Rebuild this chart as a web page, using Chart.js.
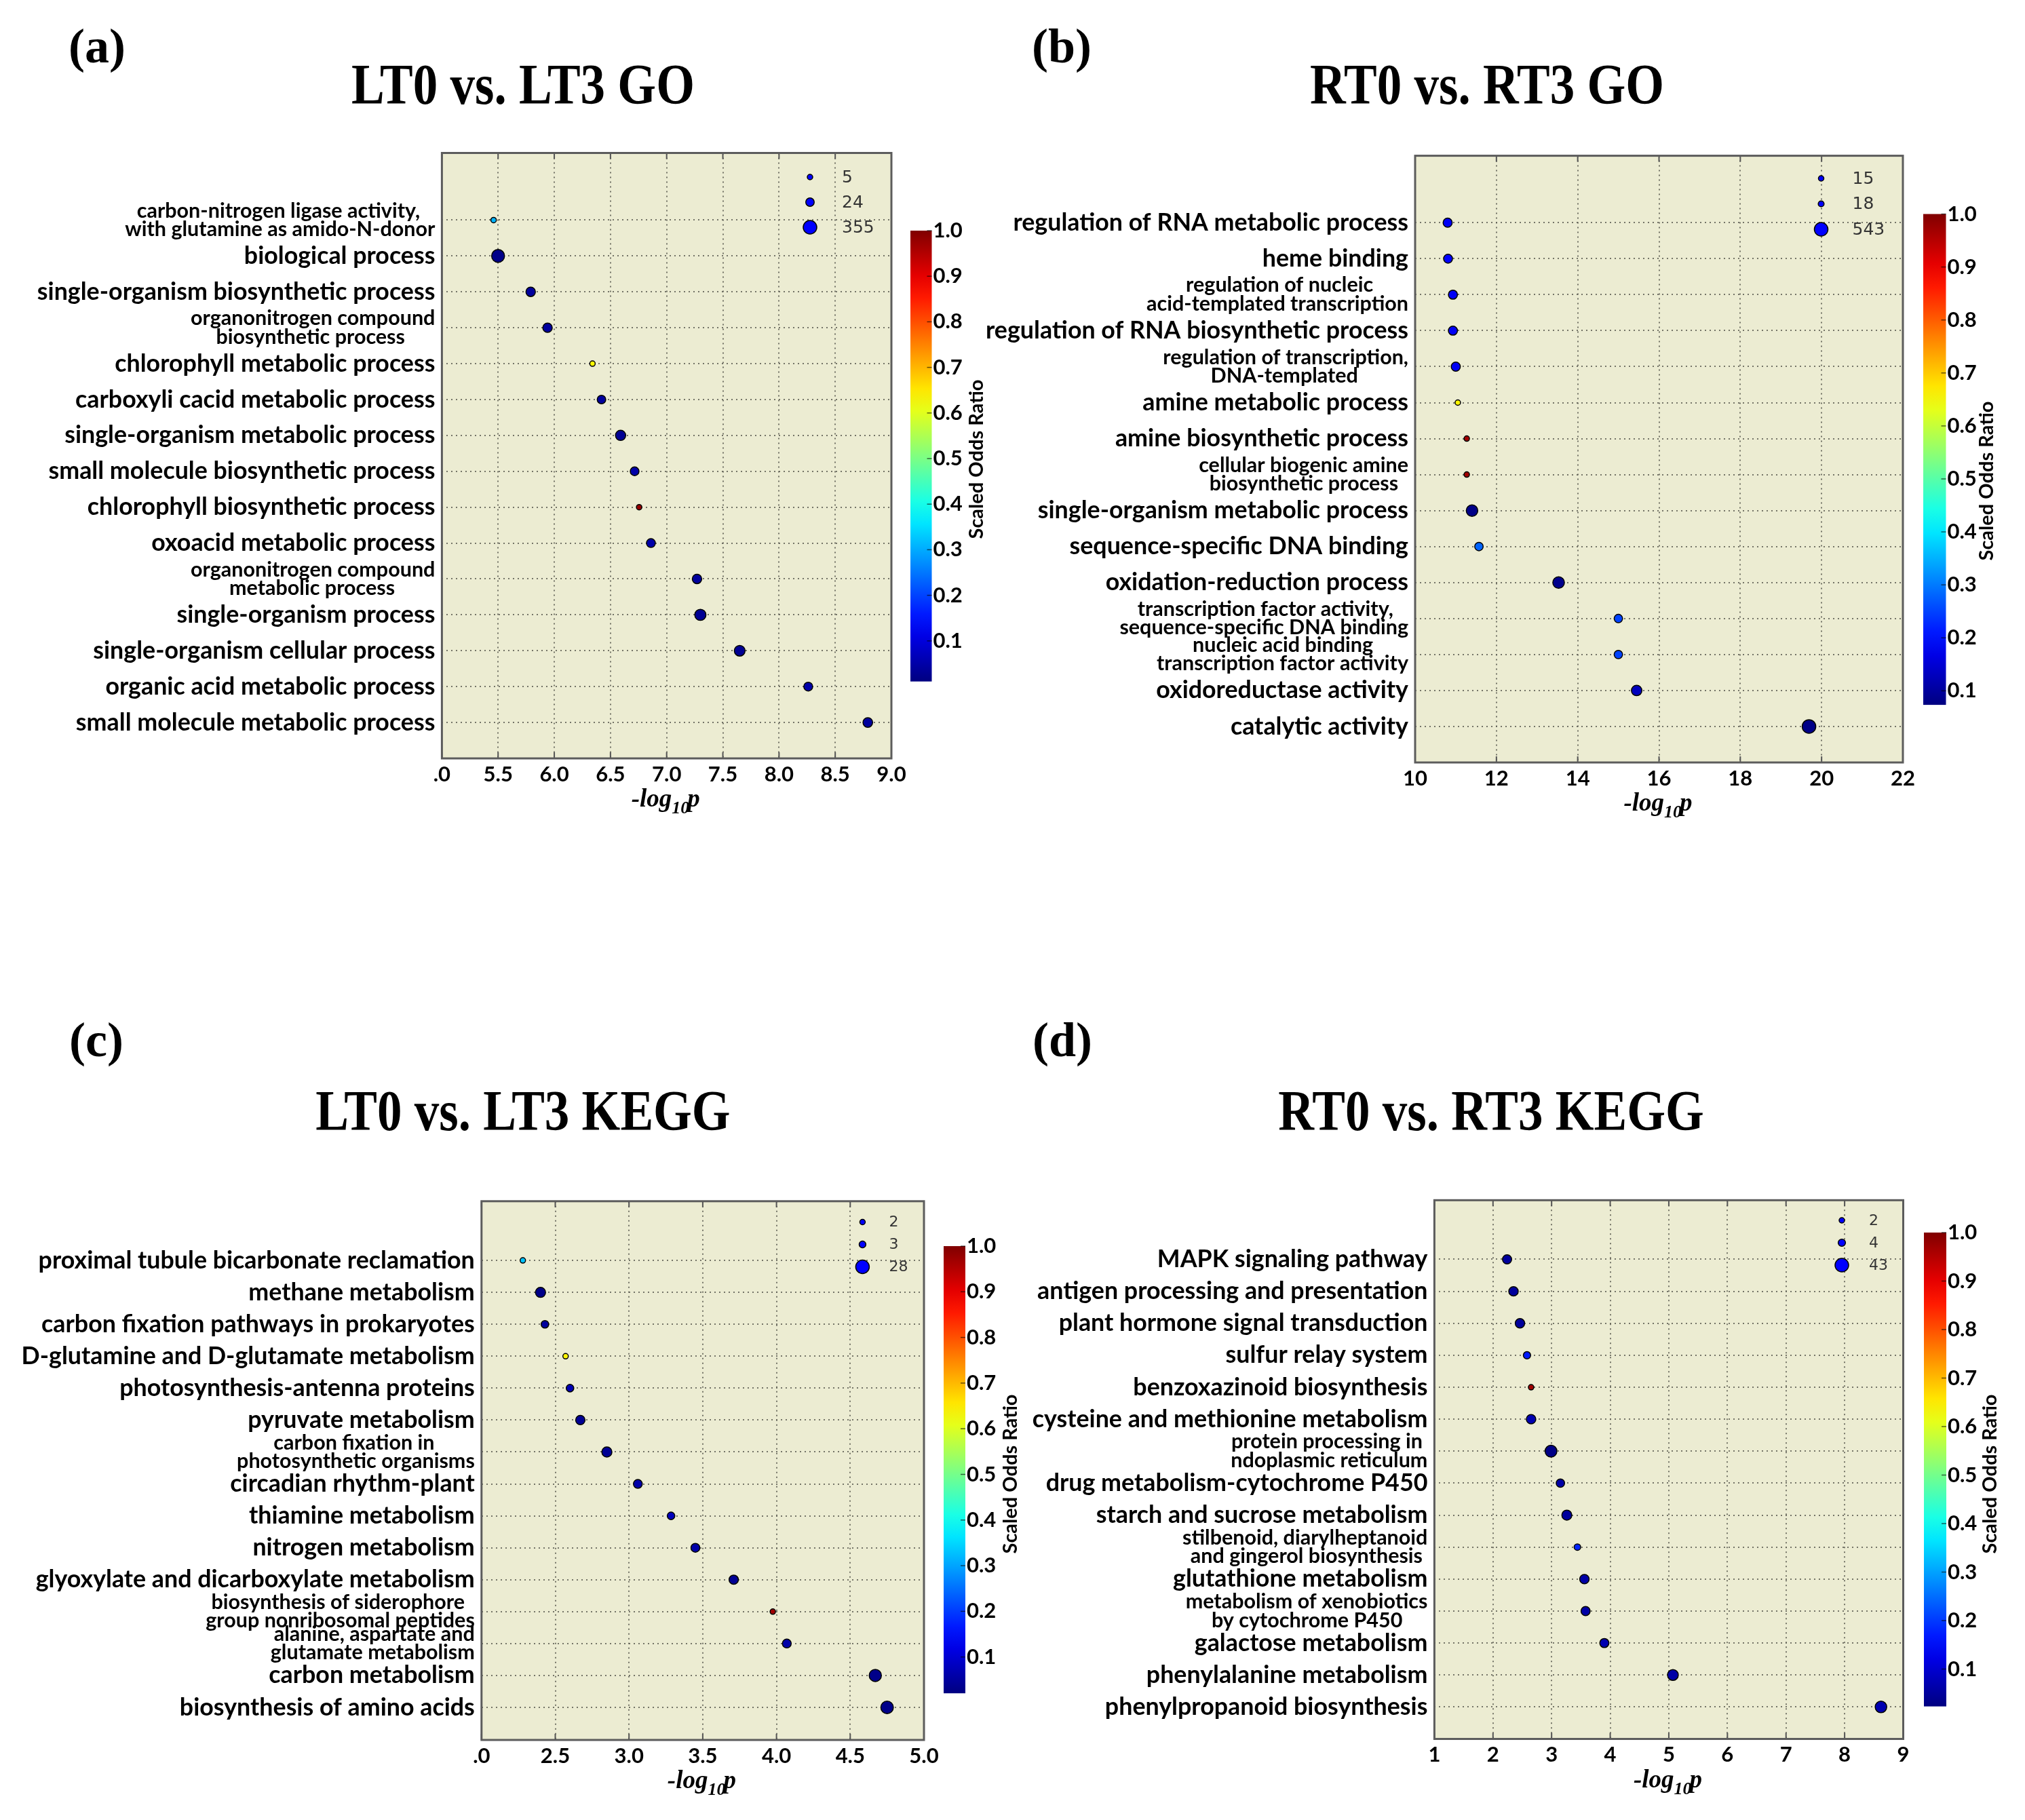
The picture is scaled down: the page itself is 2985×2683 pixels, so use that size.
<!DOCTYPE html>
<html>
<head>
<meta charset="utf-8">
<script src="https://cdn.jsdelivr.net/npm/chart.js@4.4.0/dist/chart.umd.min.js"></script>
<style>
  body { margin: 0; background: #fff; }
  #page { position: relative; width: 2985px; height: 2683px; overflow: hidden; background: #fff; }
  canvas { position: absolute; }
  .tag, .ttl {
    position: absolute;
    font-family: "Liberation Serif", "Times New Roman", serif;
    font-weight: bold;
    line-height: 1;
    white-space: nowrap;
    color: #000;
    z-index: 2;
  }
  .tag { font-size: 72px; transform: translate(-50%, -50%); }
  .ttl { font-size: 73px; transform: translate(-50%, -50%) scaleY(1.17); }
</style>
</head>
<body>
<div id="page">
  <div class="tag" style="left:143px;top:68px">(a)</div>
  <div class="tag" style="left:1565px;top:68px">(b)</div>
  <div class="tag" style="left:142px;top:1533px">(c)</div>
  <div class="tag" style="left:1566px;top:1533px">(d)</div>
  <div class="ttl" style="left:771px;top:124px">LT0 vs. LT3 GO</div>
  <div class="ttl" style="left:2192px;top:124px">RT0 vs. RT3 GO</div>
  <div class="ttl" style="left:771px;top:1637px">LT0 vs. LT3 KEGG</div>
  <div class="ttl" style="left:2198px;top:1637px">RT0 vs. RT3 KEGG</div>
  <canvas id="chartA"></canvas>
  <canvas id="chartB"></canvas>
  <canvas id="chartC"></canvas>
  <canvas id="chartD"></canvas>
</div>
<script>
// (a) LT0 vs. LT3 GO -- terms listed top to bottom
var goLtTerms = [
  ["carbon-nitrogen ligase activity,", "with glutamine as amido-N-donor"],
  "biological process",
  "single-organism biosynthetic process",
  ["organonitrogen compound", "biosynthetic process"],
  "chlorophyll metabolic process",
  "carboxyli cacid metabolic process",
  "single-organism metabolic process",
  "small molecule biosynthetic process",
  "chlorophyll biosynthetic process",
  "oxoacid metabolic process",
  ["organonitrogen compound", "metabolic process"],
  "single-organism process",
  "single-organism cellular process",
  "organic acid metabolic process",
  "small molecule metabolic process"
];
var goLtLogP = [5.46, 5.50, 5.79, 5.94, 6.34, 6.42, 6.59, 6.715, 6.755, 6.86, 7.27, 7.30, 7.65, 8.26, 8.79];
var goLtGenes = [5, 250, 40, 40, 5, 25, 60, 28, 5, 30, 40, 100, 80, 30, 45];
var goLtOdds = [0.31, 0.02, 0.04, 0.04, 0.63, 0.04, 0.03, 0.05, 0.98, 0.05, 0.04, 0.03, 0.03, 0.05, 0.04];
var goLtSizeKey = [5, 24, 355];
var goLtXTicks = [".0", "5.5", "6.0", "6.5", "7.0", "7.5", "8.0", "8.5", "9.0"];

// (b) RT0 vs. RT3 GO
var goRtTerms = [
  "regulation of RNA metabolic process",
  "heme binding",
  ["regulation of nucleic", "acid-templated transcription"],
  "regulation of RNA biosynthetic process",
  ["regulation of transcription,", "DNA-templated"],
  "amine metabolic process",
  "amine biosynthetic process",
  ["cellular biogenic amine", "biosynthetic process"],
  "single-organism metabolic process",
  "sequence-specific DNA binding",
  "oxidation-reduction process",
  ["transcription factor activity,", "sequence-specific DNA binding"],
  ["nucleic acid binding", "transcription factor activity"],
  "oxidoreductase activity",
  "catalytic activity"
];
var goRtLogP = [10.80, 10.81, 10.93, 10.93, 11.00, 11.05, 11.27, 11.27, 11.40, 11.57, 13.53, 15.00, 15.00, 15.45, 19.69];
var goRtGenes = [75, 70, 75, 75, 75, 15, 15, 15, 220, 56, 230, 56, 56, 137, 543];
var goRtOdds = [0.18, 0.19, 0.18, 0.18, 0.18, 0.66, 0.97, 0.97, 0.08, 0.28, 0.085, 0.25, 0.25, 0.13, 0.08];
var goRtSizeKey = [15, 18, 543];
var goRtXTicks = ["10", "12", "14", "16", "18", "20", "22"];

// (c) LT0 vs. LT3 KEGG
var keggLtTerms = [
  "proximal tubule bicarbonate reclamation",
  "methane metabolism",
  "carbon fixation pathways in prokaryotes",
  "D-glutamine and D-glutamate metabolism",
  "photosynthesis-antenna proteins",
  "pyruvate metabolism",
  ["carbon fixation in", "photosynthetic organisms"],
  "circadian rhythm-plant",
  "thiamine metabolism",
  "nitrogen metabolism",
  "glyoxylate and dicarboxylate metabolism",
  ["biosynthesis of siderophore", "group nonribosomal peptides"],
  ["alanine, aspartate and", "glutamate metabolism"],
  "carbon metabolism",
  "biosynthesis of amino acids"
];
var keggLtLogP = [2.28, 2.40, 2.43, 2.57, 2.60, 2.67, 2.85, 3.06, 3.285, 3.45, 3.71, 3.975, 4.07, 4.67, 4.75];
var keggLtGenes = [2, 9, 4, 2, 4, 7, 9, 6, 4, 6, 7, 2, 6, 18, 20];
var keggLtOdds = [0.33, 0.03, 0.05, 0.64, 0.07, 0.04, 0.04, 0.06, 0.08, 0.06, 0.04, 0.97, 0.06, 0.03, 0.03];
var keggLtSizeKey = [2, 3, 28];
var keggLtXTicks = [".0", "2.5", "3.0", "3.5", "4.0", "4.5", "5.0"];

// (d) RT0 vs. RT3 KEGG
var keggRtTerms = [
  "MAPK signaling pathway",
  "antigen processing and presentation",
  "plant hormone signal transduction",
  "sulfur relay system",
  "benzoxazinoid biosynthesis",
  "cysteine and methionine metabolism",
  ["protein processing in", "ndoplasmic reticulum"],
  "drug metabolism-cytochrome P450",
  "starch and sucrose metabolism",
  ["stilbenoid, diarylheptanoid", "and gingerol biosynthesis"],
  "glutathione metabolism",
  ["metabolism of xenobiotics", "by cytochrome P450"],
  "galactose metabolism",
  "phenylalanine metabolism",
  "phenylpropanoid biosynthesis"
];
var keggRtLogP = [2.24, 2.35, 2.46, 2.58, 2.65, 2.65, 2.99, 3.15, 3.26, 3.44, 3.56, 3.58, 3.90, 5.07, 8.62];
var keggRtGenes = [8, 9, 9, 4, 2, 9, 22, 6, 11, 3, 9, 8, 8, 15, 20];
var keggRtOdds = [0.05, 0.05, 0.05, 0.17, 0.97, 0.07, 0.03, 0.06, 0.05, 0.18, 0.06, 0.06, 0.07, 0.06, 0.07];
var keggRtSizeKey = [2, 4, 43];
var keggRtXTicks = ["1", "2", "3", "4", "5", "6", "7", "8", "9"];

var cbarTicks = ["0.1", "0.2", "0.3", "0.4", "0.5", "0.6", "0.7", "0.8", "0.9", "1.0"];

// layout of each panel, page pixels
var panels = [
  { id: "chartA", cx: 0, cy: 0, cw: 1525, ch: 1340,
    L: 651.4, R: 1314, T: 225.5, B: 1118, yMin: -1.0, yMax: 15.87,
    xMin: 5, xMax: 9, step: 0.5,
    terms: goLtTerms, logP: goLtLogP, genes: goLtGenes, odds: goLtOdds, sizeKey: goLtSizeKey, xTicks: goLtXTicks,
    cb: { x: 1342, w: 31.5, top: 340, ppu: 672, vmin: 0.011, lx: 1440, ly: 677 },
    leg: { dx: 120, dy: 35.5, step: 37, tx: 47, font: 25 } },
  { id: "chartB", cx: 1450, cy: 0, cw: 1535, ch: 1340,
    L: 2086, R: 2805, T: 229.6, B: 1124, yMin: -1.0, yMax: 15.86,
    xMin: 10, xMax: 22, step: 2,
    terms: goRtTerms, logP: goRtLogP, genes: goRtGenes, odds: goRtOdds, sizeKey: goRtSizeKey, xTicks: goRtXTicks,
    cb: { x: 2835, w: 33.5, top: 315.5, ppu: 781, vmin: 0.0735, lx: 2929, ly: 709 },
    leg: { dx: 120.5, dy: 33.4, step: 37.5, tx: 46, font: 25 } },
  { id: "chartC", cx: 0, cy: 1340, cw: 1525, ch: 1343,
    L: 709.8, R: 1362, T: 1770.8, B: 2565, yMin: -1.02, yMax: 15.855,
    xMin: 2, xMax: 5, step: 0.5,
    terms: keggLtTerms, logP: keggLtLogP, genes: keggLtGenes, odds: keggLtOdds, sizeKey: keggLtSizeKey, xTicks: keggLtXTicks,
    cb: { x: 1391, w: 32, top: 1837, ppu: 673, vmin: 0.0205, lx: 1490, ly: 2173 },
    leg: { dx: 90.6, dy: 30.7, step: 33, tx: 39, font: 22 } },
  { id: "chartD", cx: 1450, cy: 1340, cw: 1535, ch: 1343,
    L: 2114.4, R: 2805.5, T: 1769.3, B: 2563.5, yMin: -1.0, yMax: 15.85,
    xMin: 1, xMax: 9, step: 1,
    terms: keggRtTerms, logP: keggRtLogP, genes: keggRtGenes, odds: keggRtOdds, sizeKey: keggRtSizeKey, xTicks: keggRtXTicks,
    cb: { x: 2836, w: 33, top: 1817, ppu: 715, vmin: 0.023, lx: 2934, ly: 2173 },
    leg: { dx: 90.5, dy: 29.7, step: 33, tx: 40, font: 22 } }
];

var XAXIS_H = 60;
var bigFont = { family: "Lato", weight: "bold", size: 35.8, lineHeight: 1.2 };
var smallFont = { family: "Lato", weight: "bold", size: 30.5, lineHeight: 0.9 };
var mctx = document.createElement("canvas").getContext("2d");

function jet(t) {
  t = Math.max(0, Math.min(1, t));
  function c(v) { return Math.round(255 * Math.max(0, Math.min(1, v))); }
  return "rgb(" + c(1.5 - Math.abs(4 * t - 3)) + "," + c(1.5 - Math.abs(4 * t - 2)) + "," + c(1.5 - Math.abs(4 * t - 1)) + ")";
}

// bubble radius grows with log(count), anchored on the size key
function sizeFn(key) {
  var lo = Math.log(key[0]), hi = Math.log(key[key.length - 1]);
  return function (n) { return Math.max(3.5, 4 + 6 * (Math.log(n) - lo) / (hi - lo)); };
}

// centre the lines of a two-line label (they are drawn right aligned)
function padLines(lines, font) {
  mctx.font = font;
  var ws = lines.map(function (s) { return mctx.measureText(s).width; });
  var maxW = Math.max.apply(null, ws);
  var sp = mctx.measureText(" ").width;
  return lines.map(function (s, i) {
    return s + " ".repeat(Math.round((maxW - ws[i]) / 2 / sp));
  });
}

function makeDeco(p, rad) {
  return {
    id: "deco",
    beforeDraw: function (chart) {
      var a = chart.chartArea, ctx = chart.ctx;
      ctx.save();
      ctx.fillStyle = "#ececd2";
      ctx.fillRect(a.left, a.top, a.right - a.left, a.bottom - a.top);
      ctx.restore();
    },
    afterDraw: function (chart) {
      var a = chart.chartArea, ctx = chart.ctx, xs = chart.scales.x;
      ctx.save();
      // inward tick marks
      ctx.strokeStyle = "#555";
      ctx.lineWidth = 2;
      xs.ticks.forEach(function (t) {
        var px = xs.getPixelForValue(t.value);
        ctx.beginPath();
        ctx.moveTo(px, a.bottom); ctx.lineTo(px, a.bottom - 9);
        ctx.moveTo(px, a.top); ctx.lineTo(px, a.top + 9);
        ctx.stroke();
      });
      // frame
      ctx.strokeStyle = "#5c5c5c";
      ctx.lineWidth = 3;
      ctx.strokeRect(a.left, a.top, a.right - a.left, a.bottom - a.top);

      // size key
      p.sizeKey.forEach(function (k, i) {
        var x = a.right - p.leg.dx, y = a.top + p.leg.dy + i * p.leg.step;
        ctx.beginPath();
        ctx.arc(x, y, rad(k), 0, Math.PI * 2);
        ctx.fillStyle = "#0000ff";
        ctx.fill();
        ctx.lineWidth = 1.5;
        ctx.strokeStyle = "#000";
        ctx.stroke();
        ctx.fillStyle = "#333";
        ctx.font = p.leg.font + 'px "DejaVu Sans"';
        ctx.textAlign = "left";
        ctx.textBaseline = "middle";
        ctx.fillText(String(k), x + p.leg.tx, y + 1);
      });

      // colour bar
      var cb = p.cb;
      var bx = cb.x - p.cx, top = cb.top - p.cy, h = (1 - cb.vmin) * cb.ppu;
      var g = ctx.createLinearGradient(0, top, 0, top + h);
      for (var s = 0; s <= 20; s++) g.addColorStop(s / 20, jet(1 - s / 20));
      ctx.fillStyle = g;
      ctx.fillRect(bx, top, cb.w, h);
      ctx.font = "bold 31px Lato";
      ctx.textAlign = "left";
      ctx.textBaseline = "middle";
      cbarTicks.forEach(function (lab) {
        var v = parseFloat(lab);
        var y = top + (1 - v) * cb.ppu;
        ctx.strokeStyle = "rgba(0,0,0,0.6)";
        ctx.lineWidth = 1.5;
        ctx.beginPath();
        ctx.moveTo(bx + cb.w - 7, y); ctx.lineTo(bx + cb.w, y);
        ctx.stroke();
        ctx.fillStyle = "#000";
        ctx.fillText(lab, bx + cb.w + 2, y);
      });
      ctx.save();
      ctx.translate(cb.lx - p.cx, cb.ly - p.cy);
      ctx.rotate(-Math.PI / 2);
      ctx.textAlign = "center";
      ctx.font = "bold 29px Lato";
      ctx.fillText("Scaled Odds Ratio", 0, 0);
      ctx.restore();

      // x axis title  -log10 p
      var f1 = 'italic bold 37px "Liberation Serif"', f2 = 'italic bold 26px "Liberation Serif"';
      ctx.font = f1;
      var w1 = ctx.measureText("-log").width, w3 = ctx.measureText("p").width;
      ctx.font = f2;
      var w2 = ctx.measureText("10").width;
      var x0 = (a.left + a.right) / 2 - (w1 + w2 + w3) / 2, base = a.bottom + 71;
      ctx.textBaseline = "alphabetic";
      ctx.fillStyle = "#000";
      ctx.font = f1; ctx.fillText("-log", x0, base);
      ctx.font = f2; ctx.fillText("10", x0 + w1, base + 10);
      ctx.font = f1; ctx.fillText("p", x0 + w1 + w2 - 3, base);
      ctx.restore();
    }
  };
}

function makeChart(p) {
  var canvas = document.getElementById(p.id);
  canvas.width = p.cw;
  canvas.height = p.ch;
  canvas.style.left = p.cx + "px";
  canvas.style.top = p.cy + "px";
  canvas.style.width = p.cw + "px";
  canvas.style.height = p.ch + "px";

  var n = p.terms.length;
  var rad = sizeFn(p.sizeKey);
  var labels = p.terms.map(function (t) {
    return Array.isArray(t) ? padLines(t, "bold " + smallFont.size + "px Lato") : t;
  });
  function labelAt(v) { return labels[n - 1 - v]; }

  var points = p.logP.map(function (v, i) {
    return { x: v, y: n - 1 - i, r: rad(p.genes[i]) };
  });
  var colors = p.odds.map(function (v) {
    return jet((v - p.cb.vmin) / (1 - p.cb.vmin));
  });

  return new Chart(canvas, {
    type: "bubble",
    data: {
      datasets: [{
        data: points,
        backgroundColor: colors,
        borderColor: "#000",
        borderWidth: 1.5
      }]
    },
    options: {
      responsive: false,
      animation: false,
      events: [],
      layout: {
        padding: {
          left: 0,
          top: p.T - p.cy,
          right: p.cx + p.cw - p.R,
          bottom: p.cy + p.ch - p.B - XAXIS_H
        }
      },
      plugins: { legend: { display: false }, tooltip: { enabled: false } },
      scales: {
        x: {
          type: "linear",
          min: p.xMin,
          max: p.xMax,
          afterFit: function (s) { s.height = XAXIS_H; },
          grid: { color: "rgba(95,95,85,0.85)", lineWidth: 2, drawTicks: false },
          border: { display: false, dash: [2, 5] },
          ticks: {
            stepSize: p.step,
            padding: 5,
            maxRotation: 0,
            autoSkip: false,
            color: "#000",
            font: { family: "Lato", weight: "bold", size: 31 },
            callback: function (v, i) { return p.xTicks[i]; }
          }
        },
        y: {
          type: "linear",
          min: p.yMin,
          max: p.yMax,
          afterFit: function (s) { s.width = p.L - p.cx; },
          afterBuildTicks: function (s) {
            s.ticks = p.terms.map(function (t, i) { return { value: i }; });
          },
          grid: { color: "rgba(95,95,85,0.85)", lineWidth: 2, drawTicks: false },
          border: { display: false, dash: [2, 5] },
          ticks: {
            padding: 10,
            autoSkip: false,
            color: "#000",
            font: function (ctx) {
              var v = ctx.tick ? ctx.tick.value : 0;
              return Array.isArray(labelAt(v)) ? smallFont : bigFont;
            },
            callback: function (v) { return labelAt(v); }
          }
        }
      }
    },
    plugins: [makeDeco(p, rad)]
  });
}

panels.forEach(makeChart);
</script>
</body>
</html>
